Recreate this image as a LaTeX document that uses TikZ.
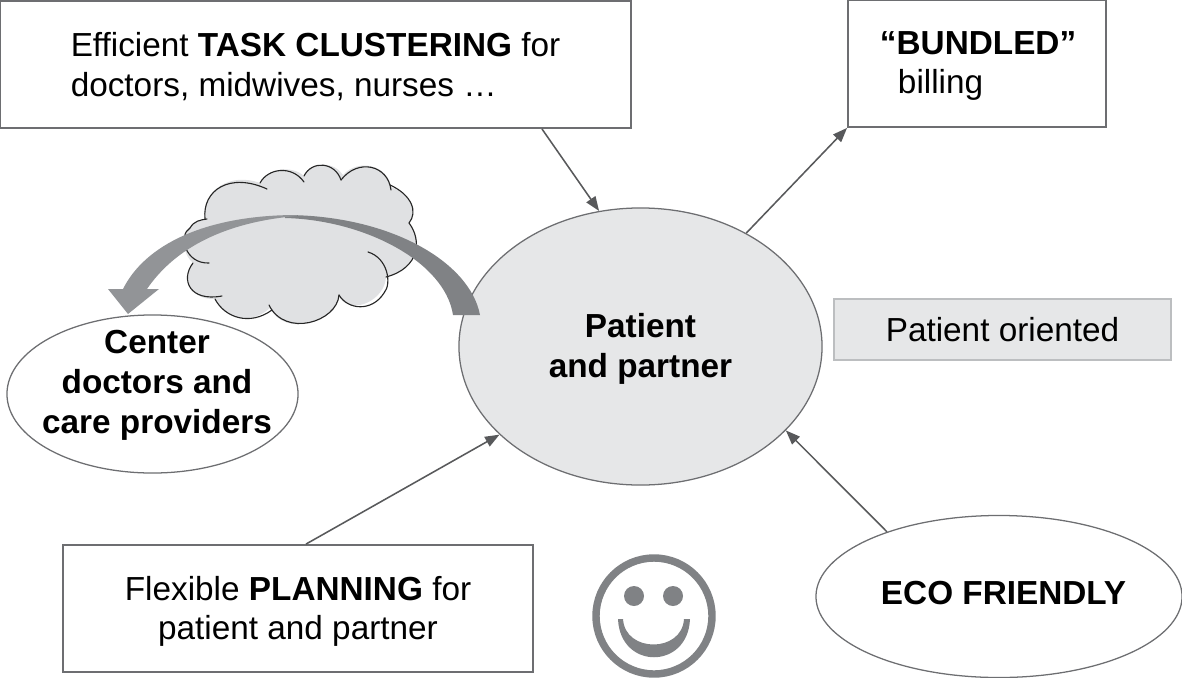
\documentclass[tikz,border=0pt]{standalone}
\usepackage{fontspec}
\setmainfont{Liberation Sans}
\usetikzlibrary{arrows.meta,shapes.geometric}
\definecolor{boxline}{HTML}{6D6E71}
\definecolor{arrowline}{HTML}{58595B}
\definecolor{softfill}{HTML}{E6E7E8}
\definecolor{softline}{HTML}{BCBEC0}
\definecolor{cloudfill}{HTML}{E0E1E3}
\definecolor{bendgray}{HTML}{808285}
\definecolor{bendlight}{HTML}{929497}

\begin{document}
\begin{tikzpicture}[
  x=0.025cm, y=-0.025cm,
  txt/.style={font=\fontsize{23.7}{28.35}\selectfont, inner sep=0pt},
  boldtxt/.style={font=\fontsize{23.7}{28.35}\selectfont\bfseries, inner sep=0pt, align=center},
  rectbox/.style={txt, rectangle, draw=boxline, line width=1.3pt, fill=white, align=left},
  ovalbox/.style={ellipse, draw=boxline, line width=0.9pt, fill=white, inner sep=0pt},
  conn/.style={draw=arrowline, line width=1.1pt, -{Triangle[length=3.6mm, width=2.7mm]}},
  cloudline/.style={draw=black!85, line width=0.8pt, line cap=round},
  smile/.style={bendgray}
]

\path[use as bounding box] (0,0) rectangle (1182,677);

\path[fill=cloudfill] (205,219) .. controls (202,190) and (230,172) .. (260,183)
  .. controls (268,168) and (292,165) .. (304,176)
  .. controls (312,160) and (335,162) .. (343,175)
  .. controls (358,158) and (388,165) .. (391,187)
  .. controls (412,195) and (418,212) .. (409,223)
  .. controls (422,240) and (420,268) .. (386,277)
  .. controls (385,300) and (352,316) .. (339,297)
  .. controls (335,322) and (285,338) .. (270,308)
  .. controls (250,326) and (225,318) .. (215,299)
  .. controls (190,300) and (182,278) .. (193,263)
  .. controls (178,250) and (182,222) .. (205,219) -- cycle;

\draw[cloudline] (205,219) .. controls (202,190) and (230,172) .. (267,189);
\draw[cloudline] (260,183) .. controls (268,168) and (292,165) .. (304,182);
\draw[cloudline] (304,176) .. controls (312,160) and (335,162) .. (341,180);
\draw[cloudline] (341,180) .. controls (358,158) and (388,165) .. (391,190);
\draw[cloudline] (390,185) .. controls (412,195) and (418,212) .. (409,223);
\draw[cloudline] (409,223) .. controls (422,240) and (420,268) .. (386,277);
\draw[cloudline] (368,252) .. controls (388,258) and (392,284) .. (384,293)
  .. controls (372,312) and (348,310) .. (339,295);
\draw[cloudline] (339,295) .. controls (337,322) and (285,338) .. (269,305);
\draw[cloudline] (272,310) .. controls (250,326) and (225,318) .. (215,299);
\draw[cloudline] (222,296) .. controls (190,302) and (180,280) .. (193,263);
\draw[cloudline] (209,263) .. controls (185,264) and (178,235) .. (190,228)
  .. controls (194,221) and (200,220) .. (207,219);

\node[rectbox, minimum width=15.775cm, minimum height=3.175cm] (ntask) at (315.5,64.5)
  {\rule{0pt}{0.7cm}Efficient \textbf{TASK CLUSTERING} for\\doctors, midwives, nurses \dots};
\node[rectbox, minimum width=6.45cm, minimum height=3.175cm, text width=4.85cm] (nbill) at (977,63.5)
  {\rule{0pt}{0.7cm}\textbf{``BUNDLED''}\\\hspace*{0.45cm}billing};
\node[rectbox, fill=softfill, draw=softline, minimum width=8.425cm, minimum height=1.525cm, align=center] (norient) at (1002.5,329.5)
  {Patient oriented};
\node[rectbox, minimum width=11.75cm, minimum height=3.175cm, align=center] (nplan) at (298,608.5)
  {\rule{0pt}{0.75cm}Flexible \textbf{PLANNING} for\\patient and partner};
\node[ovalbox, fill=softfill, minimum width=9.075cm, minimum height=6.925cm] (npat) at (640.5,346.5) {};
\node[boldtxt] (npatlbl) at (640.5,348.5) {Patient\\and partner};
\node[ovalbox, minimum width=7.275cm, minimum height=3.95cm] (ndoc) at (152.5,394) {};
\node[boldtxt] (ndoclbl) at (157,385) {Center\\doctors and\\care providers};
\node[ovalbox, minimum width=9.15cm, minimum height=4.05cm] (neco) at (999,596.5) {};
\node[boldtxt] (necolbl) at (1003.5,593) {ECO FRIENDLY};

\draw[conn] ([xshift=5.66cm]ntask.south) -- (npat.107.5);
\draw[conn] (npat.47.6) -- (nbill.south west);
\draw[conn] ([xshift=0.2cm]nplan.north) -- (npat.212);
\draw[conn] (neco.150) -- (npat.330.3);

\path[fill=bendgray] (480,315) .. controls (470,262) and (390,215) .. (285,215)
  -- (285,218) .. controls (365,220) and (445,262) .. (453,315) -- cycle;
\path[fill=bendlight] (297,215) .. controls (205,215) and (145,245) .. (123,289)
  -- (108,289) -- (128,314) -- (159,289) -- (147,289)
  .. controls (175,248) and (225,222) .. (297,216) -- cycle;

\draw[smile, line width=5.3pt] (654,616) circle (58);
\fill[smile] (634,596) circle (10);
\fill[smile] (673,596) circle (10);
\path[fill=bendgray] (618,619) .. controls (620,670) and (688,670) .. (690,619)
  -- (684,619) .. controls (682,653) and (625,653) .. (623,619) -- cycle;

\end{tikzpicture}
\end{document}
